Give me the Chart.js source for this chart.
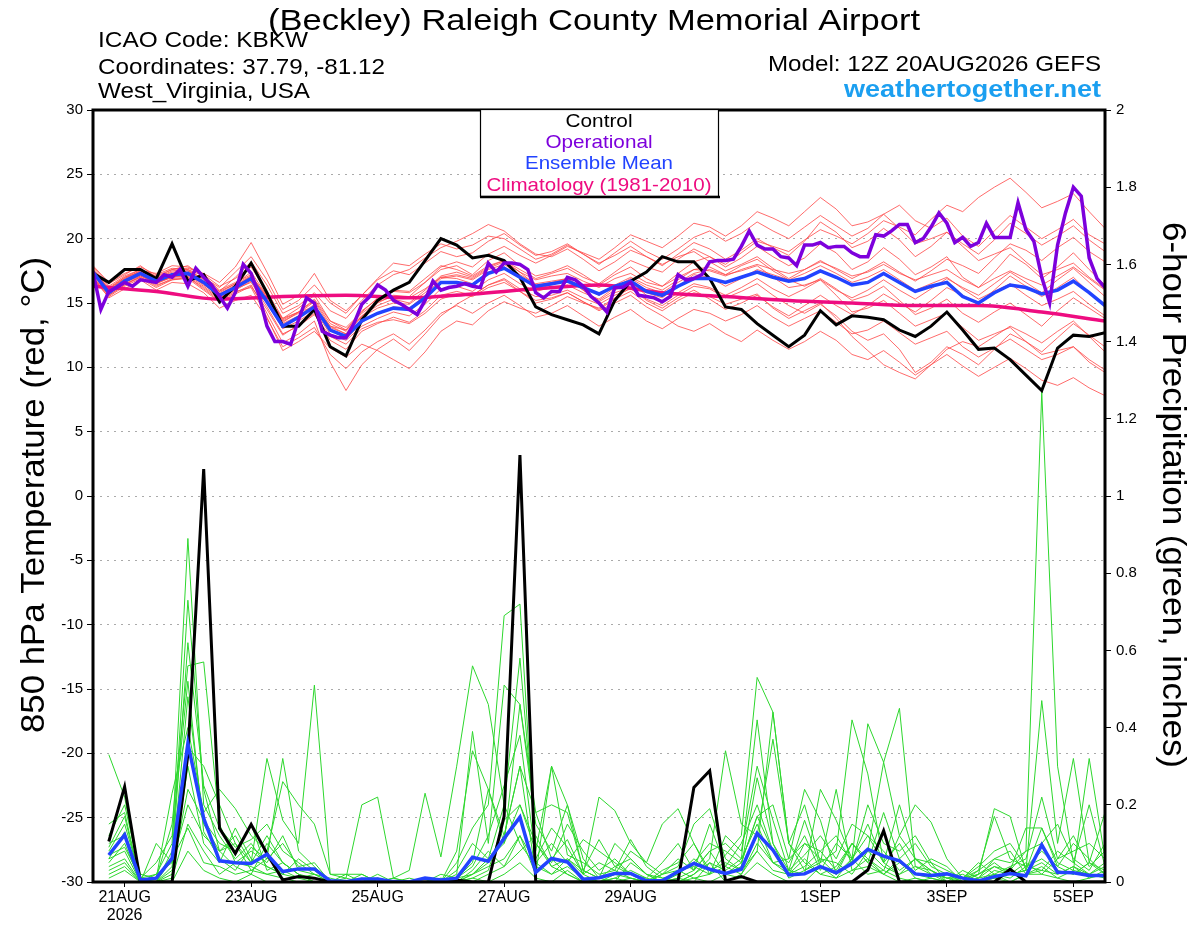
<!DOCTYPE html>
<html>
<head>
<meta charset="utf-8">
<title>KBKW GEFS meteogram</title>
<script src="https://cdn.jsdelivr.net/npm/chart.js@4.4.1/dist/chart.umd.min.js"></script>
<style>
  html, body { margin: 0; padding: 0; background: #fff; }
  canvas { display: block; }
</style>
</head>
<body>
<canvas id="chart" width="1200" height="927"></canvas>
<script>
// x axis: forecast hours after 12Z 20AUG2026
const tickHours = [12, 60, 108, 156, 204, 276, 324, 372];
const tickLabels = [["21AUG", "2026"], "23AUG", "25AUG", "27AUG", "29AUG", "1SEP", "3SEP", "5SEP"];

// 850 hPa temperature, 6-hourly from hour 0
const controlTemp = [
  17.3,16.6,17.6,17.6,16.9,19.6,16.7,17.2,15.1,16.3,
  18.1,15.8,13.2,13.2,14.5,11.6,10.9,13.7,15.2,16.0,
  16.6,18.3,20.0,19.5,18.5,18.7,18.3,17.0,14.7,14.1,
  13.7,13.3,12.6,15.2,16.7,17.4,18.6,18.2,18.2,16.9,
  14.7,14.5,13.4,12.5,11.6,12.5,14.4,13.3,14.0,13.9,
  13.7,12.9,12.4,13.2,14.3,12.9,11.4,11.5,10.6,9.4,
  8.2,11.5,12.5,12.4,12.7
];
const meanTemp = [
  17.4,15.8,16.7,17.3,16.7,17.2,17.3,16.6,15.6,16.2,
  16.9,15.1,13.2,13.9,14.7,12.9,12.4,13.6,14.2,14.6,
  14.5,15.4,16.6,16.6,16.4,17.3,17.7,17.0,16.3,16.5,
  16.7,16.2,15.7,16.3,16.7,15.9,15.6,16.3,16.9,16.9,
  16.6,17.0,17.4,17.0,16.7,16.9,17.5,17.0,16.4,16.6,
  17.3,16.6,15.9,16.3,16.6,15.5,15.0,15.8,16.4,16.2,
  15.7,16.0,16.7,15.8,14.8
];
// operational run, 3-hourly from hour 0
const operTemp = [
  17.4,14.5,15.9,16.2,16.6,16.3,16.8,16.7,16.6,17.2,
  17.0,17.6,16.3,17.7,17.0,16.4,15.5,14.6,15.8,18.0,
  17.3,15.6,13.2,12.0,12.0,11.8,13.7,15.4,15.0,12.8,
  12.5,12.3,12.3,13.4,14.9,15.5,16.4,16.0,15.2,14.9,
  14.5,14.1,15.2,16.7,16.0,16.2,16.3,16.5,16.3,16.2,
  18.1,17.4,18.1,18.1,18.0,17.6,15.8,15.4,15.9,15.9,
  17.0,16.8,16.3,15.5,15.0,14.3,16.2,16.2,16.6,15.6,
  15.5,15.4,15.1,15.5,17.2,16.8,16.9,17.2,18.2,18.3,
  18.3,18.4,19.4,20.6,19.5,19.2,19.2,18.6,18.5,17.9,
  19.5,19.5,19.7,19.3,19.4,19.4,18.9,18.6,18.6,20.3,
  20.2,20.6,21.1,21.1,19.7,20.0,20.9,22.0,21.2,19.7,
  20.1,19.4,19.7,21.2,20.1,20.1,20.1,22.8,20.7,19.8,
  17.0,15.0,19.5,22.0,24.0,23.3,18.5,16.9,16.2
];
// climatology, daily
const climHours = [0,24,48,72,96,120,144,168,192,216,240,264,288,312,336,360,384];
const climTemp = [16.3,15.9,15.3,15.5,15.6,15.4,15.7,16.1,16.4,15.8,15.5,15.2,15.0,14.8,14.8,14.3,13.6];

// ensemble members, temperature (6-hourly from hour 0)
const tMem01 = [17.8,16.5,17.2,17.9,17.0,17.6,17.9,17.0,16.2,17.4, 18.6,16.8,14.5,15.2,16.4,15.0,14.2,15.6,16.8,17.5, 17.2,18.1,19.0,18.6,18.9,19.8,20.4,19.5,18.7,19.0, 19.6,18.8,18.0,18.9,19.8,19.0,18.4,19.2,20.1,20.6, 19.8,20.4,21.3,20.6,20.0,20.9,21.8,21.0,20.2,20.8, 21.9,22.6,21.4,20.8,21.6,20.2,19.4,20.6,21.8,20.9, 20.0,20.7,21.5,20.3,19.6];
const tMem02 = [17.0,15.4,16.1,16.8,16.0,16.6,16.5,15.8,14.6,15.2, 15.6,13.8,11.6,12.3,13.1,11.0,9.9,11.2,12.0,12.6, 11.8,12.9,14.2,14.8,14.2,15.0,15.6,14.8,13.9,14.2, 14.8,14.0,13.2,13.9,14.5,13.6,13.0,13.8,14.5,14.2, 13.6,14.1,14.8,13.9,13.2,13.8,14.4,13.5,12.6,12.9, 13.6,12.7,11.8,12.3,12.8,11.6,10.8,11.5,12.2,11.4, 10.6,11.0,11.6,10.4,9.6];
const tMem03 = [17.6,16.0,16.9,17.5,17.3,17.9,17.8,17.2,16.3,16.9, 17.8,15.9,13.8,14.6,15.6,13.6,12.9,14.4,15.3,15.9, 15.8,16.6,17.6,17.9,17.2,18.3,18.9,17.9,17.1,17.4, 17.9,17.2,16.4,17.2,17.8,16.9,16.3,17.3,18.2,18.6, 17.8,18.5,19.4,18.6,17.9,18.5,19.6,18.9,17.6,18.2, 19.3,18.4,17.2,17.8,18.6,17.0,16.2,17.4,18.8,18.0, 16.9,17.8,18.9,17.6,16.4];
const tMem04 = [17.2,15.9,16.5,17.0,16.4,16.8,17.0,16.1,15.2,15.8, 16.4,14.2,11.9,12.6,13.6,10.4,8.2,10.2,11.4,12.2, 11.3,12.6,14.0,14.9,15.6,16.4,16.8,15.9,15.0,15.3, 15.8,15.1,14.4,15.0,15.6,14.7,14.0,13.2,12.8,13.4, 12.6,12.0,12.9,12.1,11.4,12.0,12.8,12.1,11.0,10.6, 11.3,10.4,9.4,10.2,11.0,10.1,9.3,10.0,10.7,9.9, 9.0,8.6,9.2,8.4,7.8];
const tMem05 = [17.5,16.2,17.0,17.4,16.9,17.5,17.6,16.8,15.9,17.0, 18.2,16.4,14.2,14.8,15.8,14.4,13.8,15.2,16.4,17.2, 17.6,18.5,19.3,19.8,20.4,21.1,20.6,19.6,18.8,18.6, 19.2,18.4,17.5,18.2,19.1,18.6,17.9,18.8,19.7,19.2, 18.4,19.1,20.0,19.3,18.7,19.8,21.3,20.5,19.3,19.8, 20.8,19.9,18.6,19.4,20.5,19.6,18.8,19.9,21.2,20.4, 19.5,20.2,21.0,19.9,19.0];
const tMem06 = [17.1,15.7,16.6,17.2,16.5,17.0,17.1,16.3,15.4,16.0, 16.7,15.0,13.0,13.6,14.4,12.6,12.1,13.2,13.8,14.3, 14.0,14.9,16.1,16.3,15.9,16.8,17.3,16.5,15.9,16.2, 16.4,15.8,15.3,16.2,16.9,16.2,15.8,16.6,17.3,17.6, 17.2,17.9,18.4,17.5,16.8,16.3,16.9,16.1,15.2,15.6, 16.3,15.2,14.1,14.6,15.3,14.2,13.5,14.3,15.0,14.1, 13.2,14.4,15.4,14.6,13.8];
const tMem07 = [17.9,16.6,17.3,17.8,17.2,17.7,17.6,17.1,16.0,16.6, 17.2,15.4,13.5,14.3,15.2,13.4,12.8,14.0,14.8,15.3, 15.0,16.0,17.1,17.4,17.0,17.8,18.3,17.6,16.9,17.3, 17.7,17.0,16.5,17.4,18.3,17.8,17.4,18.4,19.2,18.6, 18.0,18.9,19.8,19.4,19.0,19.9,20.7,20.2,19.6,20.4, 21.4,20.9,20.3,21.5,22.6,22.1,23.2,24.0,24.7,23.6, 22.4,22.9,23.5,22.1,20.8];
const tMem08 = [16.8,15.5,16.3,16.9,16.2,16.8,16.9,16.0,15.1,15.7, 16.3,14.5,12.5,13.3,14.2,12.1,11.4,12.8,13.4,13.9, 13.5,14.4,15.6,15.9,15.6,16.4,16.9,16.1,15.5,15.6, 16.0,15.4,14.9,15.6,16.1,15.3,14.8,15.6,16.3,16.1, 15.4,15.9,16.5,15.6,14.8,14.2,14.9,14.0,12.8,12.1, 12.6,11.4,9.6,10.4,11.6,11.0,10.2,11.4,12.6,12.0, 11.2,12.3,13.4,12.5,11.6];
const tMem09 = [17.4,16.0,16.8,17.4,16.8,17.3,17.5,16.9,15.9,16.5, 17.1,15.3,13.4,14.0,14.9,13.1,12.6,13.9,14.6,15.0, 14.9,15.8,17.0,17.2,16.9,17.7,18.2,17.4,16.8,17.1, 17.3,16.7,16.2,16.9,17.3,16.6,16.3,17.0,17.6,17.5, 17.1,17.6,18.0,17.6,17.3,17.6,18.2,17.7,17.1,17.4, 18.0,17.3,16.8,17.2,17.6,16.8,16.2,16.9,17.5,16.9, 16.4,17.1,17.8,16.9,16.0];
const tMem10 = [17.3,15.8,16.6,17.1,16.6,17.0,17.2,16.5,15.4,16.1, 16.6,14.7,12.6,13.2,14.1,12.4,11.8,13.0,13.5,13.7, 13.4,14.2,15.3,15.7,15.5,16.2,16.6,15.9,15.2,15.4, 15.8,15.1,14.5,15.3,15.9,15.0,14.4,15.2,15.8,15.5, 14.9,15.3,15.7,14.6,13.8,14.4,15.0,13.8,12.4,11.3, 10.2,9.6,9.1,10.2,11.4,12.0,11.6,12.4,13.2,12.6, 11.9,12.8,13.6,12.4,11.2];
const tMem11 = [17.7,16.3,17.1,17.6,17.1,17.6,17.7,17.3,16.6,17.8, 19.7,17.4,14.9,15.6,17.3,15.2,14.4,15.6,16.9,18.1, 17.9,18.8,19.6,19.2,19.5,20.2,20.0,19.2,18.4,18.8, 19.5,18.8,18.1,18.7,19.4,18.6,18.0,18.6,19.0,18.2, 17.5,18.0,18.6,17.7,16.9,17.6,18.3,17.6,16.9,17.5, 18.2,17.4,16.7,17.5,18.4,17.9,17.3,18.5,19.6,19.1, 18.3,19.3,20.1,19.0,18.2];
const tMem12 = [17.0,15.6,16.4,17.0,16.3,16.9,17.0,16.2,15.3,15.9, 16.2,13.9,11.3,12.0,12.8,11.5,10.8,11.8,11.3,10.6, 9.9,11.2,12.8,13.6,13.3,14.4,15.1,14.6,14.2,14.8, 15.5,15.0,14.6,15.4,16.2,15.8,15.4,16.3,17.2,17.0, 16.3,16.9,17.6,17.2,16.8,17.3,17.9,17.3,16.6,17.0, 17.6,16.8,16.0,16.5,17.0,16.1,15.3,15.9,16.5,15.6, 14.8,15.3,15.9,14.9,14.0];
const tMem13 = [17.6,16.1,17.0,17.6,16.9,17.4,17.5,16.7,15.8,16.5, 17.4,15.6,13.6,14.2,15.1,13.2,12.6,14.0,15.0,15.6, 15.5,16.6,17.8,18.2,17.8,18.8,19.4,18.7,18.1,18.7, 19.4,18.9,18.4,19.3,20.3,19.8,19.3,20.2,21.2,20.9, 20.2,21.0,22.1,21.6,21.0,22.1,23.2,22.3,21.0,21.3, 21.9,20.8,19.6,20.0,20.5,19.4,18.3,18.8,19.3,18.2, 17.2,17.6,18.1,17.0,16.1];
const tMem14 = [17.2,15.8,16.6,17.2,16.6,17.1,17.3,16.6,15.5,16.1, 16.8,15.1,13.2,13.9,14.8,12.9,12.2,13.5,14.2,14.7, 14.6,15.6,16.9,17.1,16.8,17.6,18.0,17.2,16.5,16.7, 16.9,16.2,15.6,16.4,17.0,16.4,16.0,16.8,17.6,17.8, 17.2,17.5,17.9,17.0,16.2,16.4,16.8,15.6,14.3,14.6, 15.2,14.2,13.2,13.7,14.2,13.1,12.1,12.6,13.1,12.0, 11.0,11.3,11.6,10.6,9.8];
const tMem15 = [17.4,16.1,16.9,17.5,16.8,17.2,17.3,16.5,15.7,16.4, 17.0,15.5,13.8,14.3,14.7,13.2,12.9,14.2,15.1,15.5, 15.4,16.1,17.0,16.9,16.5,17.4,17.8,17.0,16.1,16.4, 16.8,16.0,15.2,16.0,16.6,15.6,15.0,15.8,16.5,16.2, 15.6,16.2,16.9,16.1,15.5,16.1,16.8,16.0,15.4,16.0, 16.8,16.0,15.3,16.1,16.9,16.2,15.6,16.5,17.4,16.6, 15.8,16.8,17.7,16.6,15.5];
const tMem16 = [16.9,15.6,16.4,17.1,16.5,17.1,17.2,16.4,15.6,16.3, 17.1,15.6,13.7,14.3,15.3,13.6,13.1,14.3,15.4,16.0, 15.9,16.9,17.9,17.6,17.1,17.9,18.3,17.4,16.4,16.6, 16.9,16.0,15.1,15.8,16.2,15.2,14.6,15.4,16.0,15.3, 14.5,15.0,15.6,14.7,14.0,14.8,15.6,14.8,14.1,14.8, 15.7,15.0,14.3,15.2,16.2,15.6,15.0,16.0,17.1,16.3, 15.5,16.2,17.0,15.8,14.7];

// 6-hour precipitation (inches), 6-hourly from hour 6
const controlPrecip = [
  0.105,0.247,0,0,0,0.33,1.07,0.139,0.074,0.149,
  0.074,0.005,0.014,0.01,0,0,0,0,0,0,
  0,0,0.005,0,0,0.17,1.106,0,0,0,
  0,0,0,0,0,0,0.003,0.245,0.288,0.003,
  0.014,0,0,0,0,0,0,0,0.031,0.133,
  0,0,0,0,0,0,0,0.033,0,0,
  0,0,0,0
];
const meanPrecip = [
  0.07,0.122,0.005,0.01,0.061,0.359,0.165,0.055,0.05,0.048,
  0.072,0.027,0.034,0.034,0.003,0.001,0.008,0.008,0.001,0,
  0.01,0.005,0.01,0.064,0.054,0.113,0.168,0.025,0.061,0.052,
  0.007,0.011,0.022,0.022,0.003,0.003,0.027,0.048,0.033,0.022,
  0.033,0.126,0.083,0.018,0.021,0.04,0.024,0.048,0.085,0.067,
  0.055,0.021,0.017,0.021,0.01,0.003,0.014,0.022,0.016,0.096,
  0.025,0.024,0.017,0.017
];
const pMem01 = [0.08,0.15,0.01,0.02,0.10,0.89,0.20,0.12,0.06,0.10, 0.04,0.02,0.01,0.00,0.00,0.01,0.00,0.00,0.00,0.00, 0.01,0.00,0.03,0.10,0.06,0.20,0.58,0.10,0.04,0.06, 0.02,0.00,0.01,0.03,0.01,0.00,0.02,0.06,0.03,0.02, 0.05,0.17,0.08,0.02,0.04,0.08,0.03,0.10,0.05,0.02, 0.06,0.01,0.00,0.00,0.00,0.02,0.05,0.02,0.03,0.14, 0.04,0.02,0.05,0.03];
const pMem02 = [0.05,0.10,0.00,0.00,0.06,0.73,0.24,0.08,0.04,0.02, 0.10,0.05,0.02,0.01,0.00,0.00,0.00,0.02,0.00,0.00, 0.00,0.00,0.00,0.02,0.05,0.12,0.30,0.18,0.06,0.02, 0.00,0.01,0.04,0.02,0.00,0.00,0.01,0.03,0.08,0.02, 0.04,0.27,0.10,0.01,0.03,0.06,0.02,0.05,0.08,0.04, 0.02,0.06,0.03,0.00,0.00,0.01,0.04,0.03,0.08,1.27, 0.30,0.05,0.02,0.04];
const pMem03 = [0.12,0.20,0.02,0.01,0.15,0.56,0.57,0.15,0.05,0.08, 0.05,0.12,0.03,0.02,0.00,0.00,0.01,0.00,0.00,0.00, 0.00,0.02,0.01,0.05,0.24,0.10,0.46,0.15,0.08,0.20, 0.06,0.01,0.02,0.08,0.05,0.02,0.06,0.03,0.15,0.04, 0.02,0.10,0.05,0.03,0.16,0.04,0.02,0.06,0.12,0.05, 0.02,0.04,0.02,0.00,0.01,0.03,0.17,0.06,0.04,0.08, 0.04,0.10,0.06,0.02];
const pMem04 = [0.33,0.22,0.00,0.00,0.04,0.48,0.15,0.08,0.12,0.05, 0.32,0.16,0.10,0.51,0.02,0.02,0.02,0.00,0.01,0.00, 0.00,0.00,0.01,0.02,0.04,0.06,0.12,0.05,0.02,0.04, 0.01,0.00,0.00,0.05,0.02,0.01,0.00,0.02,0.05,0.00, 0.02,0.08,0.44,0.10,0.03,0.05,0.24,0.03,0.04,0.02, 0.05,0.02,0.01,0.00,0.03,0.01,0.02,0.00,0.02,0.03, 0.02,0.04,0.01,0.03];
const pMem05 = [0.10,0.12,0.00,0.01,0.23,0.40,0.18,0.24,0.19,0.12, 0.08,0.26,0.20,0.15,0.02,0.01,0.20,0.22,0.01,0.03, 0.23,0.065,0.30,0.56,0.46,0.20,0.10,0.04,0.02,0.06, 0.03,0.01,0.00,0.01,0.00,0.02,0.04,0.15,0.19,0.06, 0.03,0.12,0.05,0.02,0.10,0.06,0.05,0.02,0.08,0.31, 0.12,0.06,0.03,0.01,0.01,0.05,0.02,0.01,0.04,0.06, 0.03,0.02,0.05,0.18];
const pMem06 = [0.06,0.08,0.00,0.00,0.02,0.30,0.10,0.05,0.14,0.06, 0.04,0.02,0.06,0.03,0.00,0.00,0.00,0.01,0.00,0.00, 0.01,0.00,0.05,0.14,0.20,0.69,0.72,0.05,0.10,0.05, 0.11,0.08,0.05,0.02,0.00,0.00,0.03,0.01,0.02,0.07, 0.12,0.53,0.44,0.10,0.05,0.02,0.01,0.06,0.02,0.03, 0.01,0.00,0.01,0.00,0.00,0.00,0.03,0.02,0.05,0.02, 0.01,0.03,0.02,0.01];
const pMem07 = [0.04,0.06,0.00,0.02,0.05,0.20,0.12,0.08,0.10,0.03, 0.06,0.10,0.04,0.05,0.00,0.00,0.00,0.00,0.01,0.00, 0.00,0.00,0.08,0.34,0.24,0.12,0.30,0.02,0.30,0.20, 0.03,0.01,0.10,0.06,0.02,0.00,0.00,0.02,0.06,0.34, 0.15,0.12,0.37,0.10,0.20,0.05,0.08,0.42,0.28,0.05, 0.20,0.06,0.05,0.00,0.00,0.02,0.19,0.17,0.03,0.47, 0.10,0.32,0.05,0.02];
const pMem08 = [0.03,0.05,0.00,0.00,0.01,0.15,0.08,0.02,0.05,0.04, 0.02,0.03,0.01,0.02,0.00,0.00,0.00,0.00,0.00,0.00, 0.00,0.00,0.02,0.39,0.10,0.51,0.46,0.18,0.20,0.18, 0.03,0.11,0.04,0.06,0.02,0.00,0.01,0.00,0.05,0.03, 0.06,0.42,0.10,0.03,0.02,0.24,0.16,0.06,0.41,0.31, 0.45,0.04,0.03,0.01,0.02,0.00,0.01,0.03,0.14,0.14, 0.05,0.03,0.32,0.06];
const pMem09 = [0.02,0.04,0.00,0.01,0.06,0.14,0.05,0.04,0.02,0.03, 0.02,0.01,0.00,0.00,0.00,0.00,0.02,0.00,0.00,0.00, 0.00,0.01,0.00,0.03,0.08,0.04,0.12,0.02,0.06,0.11, 0.02,0.22,0.185,0.10,0.05,0.15,0.19,0.10,0.03,0.05, 0.03,0.08,0.03,0.02,0.06,0.02,0.04,0.10,0.06,0.03, 0.12,0.20,0.155,0.06,0.01,0.02,0.04,0.02,0.03,0.05, 0.02,0.04,0.02,0.05];
const pMem10 = [0.07,0.09,0.01,0.00,0.03,0.24,0.16,0.10,0.08,0.15, 0.03,0.05,0.02,0.00,0.00,0.00,0.00,0.00,0.00,0.01, 0.00,0.00,0.00,0.02,0.06,0.10,0.20,0.10,0.05,0.15, 0.08,0.03,0.06,0.02,0.01,0.05,0.10,0.03,0.08,0.10, 0.06,0.15,0.05,0.06,0.24,0.16,0.02,0.10,0.05,0.18, 0.06,0.10,0.04,0.02,0.00,0.01,0.06,0.08,0.02,0.02, 0.06,0.08,0.10,0.06];
const pMem11 = [0.15,0.18,0.00,0.00,0.08,0.35,0.30,0.20,0.10,0.05, 0.12,0.05,0.02,0.00,0.00,0.00,0.00,0.00,0.00,0.00, 0.00,0.00,0.00,0.00,0.02,0.04,0.08,0.12,0.04,0.02, 0.00,0.00,0.02,0.01,0.00,0.03,0.05,0.10,0.02,0.04, 0.10,0.20,0.08,0.05,0.12,0.03,0.10,0.06,0.15,0.05, 0.10,0.03,0.06,0.04,0.00,0.03,0.06,0.05,0.08,0.10, 0.15,0.06,0.03,0.10];
const pMem12 = [0.01,0.03,0.00,0.00,0.00,0.08,0.03,0.01,0.00,0.02, 0.00,0.00,0.00,0.00,0.00,0.00,0.00,0.00,0.00,0.00, 0.00,0.00,0.00,0.01,0.00,0.02,0.05,0.01,0.00,0.03, 0.00,0.00,0.01,0.00,0.00,0.00,0.00,0.01,0.00,0.02, 0.01,0.05,0.02,0.00,0.00,0.04,0.01,0.03,0.06,0.02, 0.00,0.01,0.00,0.00,0.00,0.00,0.01,0.00,0.02,0.04, 0.01,0.00,0.01,0.02];
const pMem13 = [0.06,0.13,0.01,0.05,0.12,0.52,0.13,0.06,0.03,0.09, 0.06,0.32,0.08,0.04,0.00,0.02,0.00,0.00,0.00,0.00, 0.00,0.00,0.00,0.01,0.03,0.16,0.20,0.08,0.30,0.07, 0.05,0.02,0.03,0.11,0.04,0.01,0.02,0.05,0.10,0.08, 0.05,0.17,0.20,0.06,0.10,0.08,0.12,0.05,0.20,0.10, 0.08,0.12,0.05,0.03,0.01,0.04,0.08,0.10,0.04,0.03, 0.08,0.05,0.20,0.04];
const pMem14 = [0.09,0.17,0.00,0.10,0.05,0.62,0.25,0.14,0.09,0.11, 0.15,0.08,0.05,0.02,0.01,0.00,0.00,0.01,0.00,0.00, 0.00,0.00,0.01,0.04,0.12,0.25,0.38,0.06,0.14,0.09, 0.02,0.05,0.03,0.01,0.00,0.02,0.03,0.04,0.02,0.12, 0.08,0.30,0.16,0.03,0.07,0.12,0.06,0.15,0.12,0.08, 0.03,0.06,0.02,0.01,0.00,0.00,0.02,0.04,0.06,0.22, 0.06,0.12,0.04,0.08];

const tempMembers = [tMem01,tMem02,tMem03,tMem04,tMem05,tMem06,tMem07,tMem08,tMem09,tMem10,tMem11,tMem12,tMem13,tMem14,tMem15,tMem16];
const precipMembers = [pMem01,pMem02,pMem03,pMem04,pMem05,pMem06,pMem07,pMem08,pMem09,pMem10,pMem11,pMem12,pMem13,pMem14];

const FONT = '"Liberation Sans", Arial, Helvetica, sans-serif';
const PURPLE = "#7d00dc";
const BLUE = "#2243ff";
const PINK = "#ee0c80";
const MEMBER_RED = "rgba(255,70,70,0.8)";
const MEMBER_GREEN = "rgb(45,215,45)";

function toPoints(values, startHour, stepHours) {
    return values.map((v, i) => ({ x: startHour + i * stepHours, y: v }));
}

function lineSet(data, color, width, axis) {
    return {
        data: data,
        yAxisID: axis,
        borderColor: color,
        borderWidth: width,
        pointRadius: 0,
        fill: false,
        tension: 0
    };
}

// draw text squeezed/stretched to a given width
function fitText(ctx, text, x, y, size, width, align, color, weight, angle) {
    ctx.save();
    ctx.font = (weight || "normal") + " " + size + "px " + FONT;
    ctx.fillStyle = color;
    ctx.textBaseline = "alphabetic";
    ctx.textAlign = "left";
    const k = width / ctx.measureText(text).width;
    ctx.translate(x, y);
    if (angle) ctx.rotate(angle);
    let x0 = -width / 2;
    if (align === "left") x0 = 0;
    if (align === "right") x0 = -width;
    ctx.translate(x0, 0);
    ctx.scale(k, 1);
    ctx.fillText(text, 0, 0);
    ctx.restore();
}

const decorations = {
    id: "decorations",
    afterDatasetsDraw(chart) {
        const ctx = chart.ctx;
        const a = chart.chartArea;
        ctx.save();
        ctx.strokeStyle = "#000";
        ctx.lineWidth = 3;
        ctx.strokeRect(a.left, a.top, a.right - a.left, a.bottom - a.top);
        ctx.restore();
    },
    afterDraw(chart) {
        const ctx = chart.ctx;

        // header
        fitText(ctx, "(Beckley) Raleigh County Memorial Airport", 594, 30, 30, 652, "center", "#000");
        fitText(ctx, "ICAO Code: KBKW", 98, 47, 22, 210, "left", "#000");
        fitText(ctx, "Coordinates: 37.79, -81.12", 98, 74, 22, 287, "left", "#000");
        fitText(ctx, "West_Virginia, USA", 98, 98, 22, 212, "left", "#000");
        fitText(ctx, "Model: 12Z 20AUG2026 GEFS", 1101, 71, 22, 333, "right", "#000");
        fitText(ctx, "weathertogether.net", 1101, 97, 24, 257, "right", "#1b9ff0", "bold");

        // axis titles
        fitText(ctx, "850 hPa Temperature (red, \u00B0C)", 44, 495, 33, 476, "center", "#000", "normal", -Math.PI / 2);
        fitText(ctx, "6-hour Precipitation (green, inches)", 1163, 495, 33, 546, "center", "#000", "normal", Math.PI / 2);

        // legend box
        ctx.save();
        ctx.fillStyle = "#fff";
        ctx.fillRect(480, 109, 239, 88);
        ctx.strokeStyle = "#000";
        ctx.lineWidth = 1.2;
        ctx.strokeRect(480.5, 109.5, 238, 87);
        ctx.lineWidth = 2.5;
        ctx.beginPath();
        ctx.moveTo(480, 197);
        ctx.lineTo(720, 197);
        ctx.stroke();
        ctx.restore();
        fitText(ctx, "Control", 599, 127, 19, 67, "center", "#000");
        fitText(ctx, "Operational", 599, 148, 19, 107, "center", PURPLE);
        fitText(ctx, "Ensemble Mean", 599, 169, 19, 148, "center", BLUE);
        fitText(ctx, "Climatology (1981-2010)", 599, 191, 19, 225, "center", PINK);
    }
};

const datasets = [];
datasets.push(lineSet(toPoints(operTemp, 0, 3), PURPLE, 3.5, "y"));
datasets.push(lineSet(toPoints(meanTemp, 0, 6), BLUE, 3.5, "y"));
datasets.push(lineSet(toPoints(controlTemp, 0, 6), "#000", 3, "y"));
const clim = lineSet(climHours.map((h, i) => ({ x: h, y: climTemp[i] })), PINK, 3.5, "y");
clim.cubicInterpolationMode = "monotone";
datasets.push(clim);
datasets.push(lineSet(toPoints(meanPrecip, 6, 6), BLUE, 3.5, "y1"));
datasets.push(lineSet(toPoints(controlPrecip, 6, 6), "#000", 3, "y1"));
precipMembers.forEach(m => datasets.push(lineSet(toPoints(m, 6, 6), MEMBER_GREEN, 1, "y1")));
tempMembers.forEach(m => datasets.push(lineSet(toPoints(m, 0, 6), MEMBER_RED, 1, "y")));

const tickFont = { family: FONT, size: 15 };

new Chart(document.getElementById("chart"), {
    type: "line",
    data: { datasets: datasets },
    options: {
        responsive: false,
        animation: false,
        devicePixelRatio: 1,
        layout: { padding: { top: 110, left: 0, right: 0, bottom: 0 } },
        plugins: {
            legend: { display: false },
            tooltip: { enabled: false },
            title: { display: false }
        },
        scales: {
            x: {
                type: "linear",
                min: 0,
                max: 384,
                afterBuildTicks: scale => { scale.ticks = tickHours.map(v => ({ value: v })); },
                afterFit: scale => { scale.height = 45; },
                ticks: {
                    autoSkip: false,
                    maxRotation: 0,
                    color: "#000",
                    font: { family: FONT, size: 16, lineHeight: 1.1 },
                    padding: 2,
                    callback: value => {
                        const i = tickHours.indexOf(value);
                        return i >= 0 ? tickLabels[i] : "";
                    }
                },
                grid: { drawOnChartArea: false, drawTicks: true, tickLength: 5, tickColor: "#000" },
                border: { display: false }
            },
            y: {
                position: "left",
                min: -30,
                max: 30,
                afterFit: scale => { scale.width = 93; },
                ticks: { stepSize: 5, color: "#000", font: tickFont, padding: 4 },
                grid: { color: "#aaaaaa", lineWidth: 1, tickColor: "#000", tickLength: 6 },
                border: { display: false, dash: [2, 5] }
            },
            y1: {
                position: "right",
                min: 0,
                max: 2,
                afterFit: scale => { scale.width = 95; },
                ticks: {
                    stepSize: 0.2,
                    color: "#000",
                    font: tickFont,
                    padding: 5,
                    callback: value => String(Math.round(value * 10) / 10)
                },
                grid: { drawOnChartArea: false, tickColor: "#000", tickLength: 6 },
                border: { display: false }
            }
        }
    },
    plugins: [decorations]
});
</script>
</body>
</html>
